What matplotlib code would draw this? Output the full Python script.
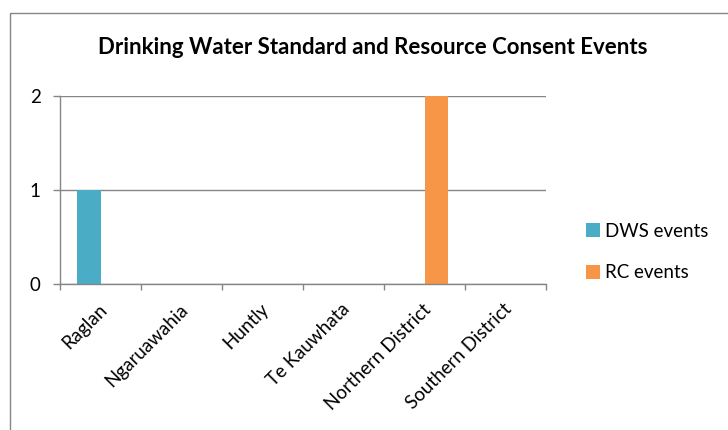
import matplotlib
matplotlib.use("Agg")
import matplotlib.pyplot as plt
from matplotlib.patches import Rectangle, Patch
import numpy as np

categories = ["Raglan", "Ngaruawahia", "Huntly", "Te Kauwhata", "Northern District", "Southern District"]
dws_events = [1, 0, 0, 0, 0, 0]
rc_events = [0, 0, 0, 0, 2, 0]
series_names = ["DWS events", "RC events"]
colors = ["#4BACC6", "#F79646"]
y_ticks = [0, 1, 2]

plt.rcParams['font.family'] = ['Lato', 'DejaVu Sans']

W, H = 728, 430
fig = plt.figure(figsize=(W / 100, H / 100), dpi=100)
grey = "#868686"

# outer chart border
fig.patches.append(Rectangle((10 / W, -0.1), 1.0, 1 - 13 / H + 0.1, transform=fig.transFigure,
                             fill=False, edgecolor=grey, lw=1.0))

ax = fig.add_axes([60 / W, 1 - 284 / H, (546 - 60) / W, (284 - 96) / H])
x = np.arange(len(categories))
bw = 0.284
ax.bar(x - bw / 2, dws_events, width=bw, color=colors[0], zorder=3)
ax.bar(x + bw / 2, rc_events, width=bw, color=colors[1], zorder=3)

ax.set_xlim(-0.5, len(categories) - 0.5)
ax.set_ylim(0, 2)
ax.set_yticks(y_ticks)
ax.set_yticklabels([str(v) for v in y_ticks], fontsize=13.5)
ax.yaxis.grid(True, color=grey, lw=1.0, zorder=0)
ax.tick_params(axis='y', length=5, width=1, color=grey, pad=9)

ax.set_xticks(np.arange(-0.5, len(categories), 1.0))
ax.set_xticklabels([])
ax.tick_params(axis='x', which='major', length=4, width=1, color=grey)
ax.set_xticks(x - 0.03, minor=True)
ax.set_xticklabels(categories, minor=True, rotation=45, ha='right', rotation_mode='anchor', fontsize=13.5)
ax.tick_params(axis='x', which='minor', length=0, pad=12)

for s in ['top', 'right']:
    ax.spines[s].set_visible(False)
for s in ['left', 'bottom']:
    ax.spines[s].set_color(grey)
    ax.spines[s].set_linewidth(1.0)
    ax.spines[s].set_zorder(4)

fig.text(373 / W, 1 - 47 / H, "Drinking Water Standard and Resource Consent Events",
         ha='center', va='center', fontsize=16, fontweight='bold')

handles = [Patch(facecolor=c, edgecolor='none') for c in colors]
fig.legend(handles, series_names, loc='center left', bbox_to_anchor=(586 / W, 1 - 252 / H),
           frameon=False, fontsize=13.5, handlelength=0.75, handleheight=0.75,
           handletextpad=0.25, labelspacing=1.3, borderaxespad=0, borderpad=0)

fig.savefig("out.png", dpi=100)
